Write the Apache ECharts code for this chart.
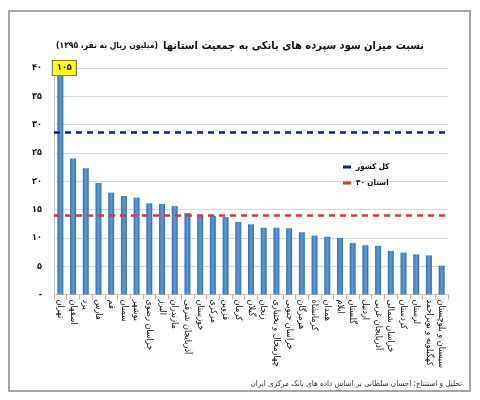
<!DOCTYPE html>
<html>
<head>
<meta charset="utf-8">
<script src="https://cdn.jsdelivr.net/npm/echarts@6/dist/echarts.min.js"></script>
<style>
html,body{margin:0;padding:0;background:#fff;}
#c{width:480px;height:400px;}
</style>
</head>
<body>
<div id="c"></div>
<script>
// Data
const categories = ['تهران','اصفهان','یزد','فارس','قم','سمنان','بوشهر','خراسان رضوی','البرز','مازندران','آذربایجان شرقی','خوزستان','مرکزی','قزوین','کرمان','گیلان','زنجان','چهارمحال و بختیاری','خراسان جنوبی','هرمزگان','کرمانشاه','همدان','ایلام','گلستان','اردبیل','آذربایجان غربی','خراسان شمالی','کردستان','لرستان','کهگیلویه و بویراحمد','سیستان و بلوچستان'];
const values = [105,24.0,22.3,19.7,18.0,17.4,17.1,16.1,16.0,15.6,14.4,14.1,13.9,13.7,12.8,12.4,11.8,11.8,11.7,11.0,10.4,10.2,10.0,9.1,8.7,8.6,7.7,7.4,7.1,6.9,5.1];
const yTickLabels = ['-','۵','۱۰','۱۵','۲۰','۲۵','۳۰','۳۵','۴۰'];
const refNames = ['کل کشور','۳۰ استان'];
const refValues = [28.6, 14.0];
const yMax = 40;
const yStep = 5;

const FONT = '"DejaVu Sans Condensed", "DejaVu Sans", sans-serif';
function fa(n){return String(n).replace(/\d/g,d=>'۰۱۲۳۴۵۶۷۸۹'[d]);}

const chart = echarts.init(document.getElementById('c'), null, {renderer:'canvas'});
const barColor = new echarts.graphic.LinearGradient(0,0,1,0,[
  {offset:0,color:'#3570b3'},{offset:0.5,color:'#5d9ad6'},{offset:1,color:'#3570b3'}]);

chart.setOption({
  backgroundColor:'#fff',
  animation:false,
  title:[{
    text:'{s|(میلیون ریال به نفر، ۱۳۹۵)} {b|نسبت میزان سود سپرده های بانکی به جمعیت استانها}',
    left:'center', top:32,
    textStyle:{rich:{
      b:{fontFamily:FONT,fontSize:11,fontWeight:'bold',color:'#111'},
      s:{fontFamily:FONT,fontSize:8.5,color:'#111'}
    }}
  },{
    text:'تحلیل و استنتاج: احسان سلطانی بر اساس داده های بانک مرکزی ایران',
    right:13, top:375,
    textStyle:{fontFamily:FONT,fontSize:8,fontWeight:'normal',color:'#333'}
  }],
  graphic:[{type:'rect',shape:{x:9,y:11,width:461,height:380},style:{fill:'none',stroke:'#a6a6a6',lineWidth:2},silent:true,z:-1}],
  legend:{
    orient:'vertical', left:338, top:158, itemGap:8,
    itemWidth:8, itemHeight:3, icon:'rect',
    data:refNames,
    textStyle:{fontFamily:FONT,fontSize:8,fontWeight:'bold',color:'#111'}
  },
  grid:{left:54,right:32,top:68,bottom:105.5,containLabel:false},
  xAxis:{
    type:'category', data:categories,
    axisLine:{lineStyle:{color:'#c8c8c8'}},
    axisTick:{show:true,alignWithLabel:false,length:5,lineStyle:{color:'#e0a0a0'}},
    axisLabel:{interval:0,rotate:-90,margin:5,fontFamily:FONT,fontSize:9,color:'#111'}
  },
  yAxis:{
    type:'value', min:0, max:yMax, interval:yStep,
    axisLine:{show:true,lineStyle:{color:'#c8c8c8'}},
    axisTick:{show:false},
    splitLine:{lineStyle:{color:'#d9d9d9'}},
    axisLabel:{margin:12,fontFamily:FONT,fontSize:9,fontWeight:'bold',color:'#111',
      formatter:v=>yTickLabels[Math.round(v/yStep)]}
  },
  series:[{
    type:'bar', data:values, barWidth:6, clip:true,
    itemStyle:{color:barColor},
    markPoint:{
      symbol:'rect', symbolSize:[24,15], symbolOffset:[4,0], silent:true,
      itemStyle:{color:'#ffff00',borderColor:'#7f7f7f',borderWidth:1},
      label:{show:true,fontFamily:FONT,fontSize:9,fontWeight:'bold',color:'#111',formatter:()=>fa(values[0])},
      data:[{coord:[categories[0], yMax]}]
    }
  },{
    name:refNames[0], type:'line', data:[], symbol:'none',
    itemStyle:{color:'#0a1fa0'}, lineStyle:{color:'#0a1fa0'},
    markLine:{silent:true,symbol:['none','none'],label:{show:false},
      lineStyle:{color:'#0a1fa0',type:[6,5],width:2.5},
      data:[{yAxis:refValues[0]}]}
  },{
    name:refNames[1], type:'line', data:[], symbol:'none',
    itemStyle:{color:'#e8352b'}, lineStyle:{color:'#e8352b'},
    markLine:{silent:true,symbol:['none','none'],label:{show:false},
      lineStyle:{color:'#e8352b',type:[6,5],width:2.5},
      data:[{yAxis:refValues[1]}]}
  }]
});
</script>
</body>
</html>
